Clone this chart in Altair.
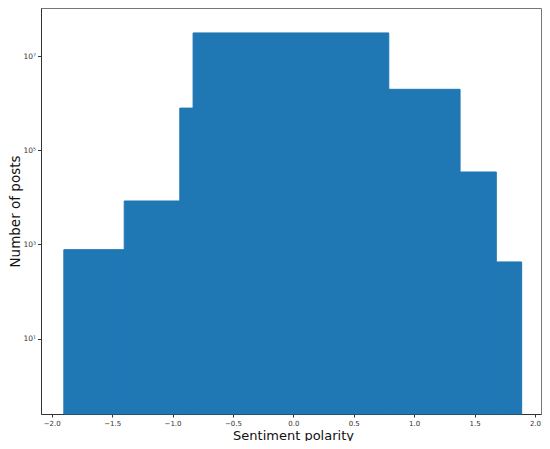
import altair as alt
import pandas as pd

# Histogram bins (sentiment polarity) and counts
bin_start = [-1.90, -1.40, -0.94, -0.83, 0.79, 1.38, 1.68]
bin_end = [-1.40, -0.94, -0.83, 0.79, 1.38, 1.68, 1.89]
counts = [773, 8360, 785000, 31000000, 1970000, 34500, 424]

x_ticks = [-2.0, -1.5, -1.0, -0.5, 0.0, 0.5, 1.0, 1.5, 2.0]
y_ticks = [10, 1000, 100000, 10000000]

Y_MIN, Y_MAX = 0.25, 1.05e8
X_MIN, X_MAX = -2.089, 2.05

df = pd.DataFrame({
    "start": bin_start,
    "end": bin_end,
    "count": counts,
    "base": [Y_MIN] * len(counts),
})

sup_expr = (
    "'10' + replace(replace(replace(replace(format(log(datum.value)/log(10), 'd'),"
    "'1','¹'),'3','³'),'5','⁵'),'7','⁷')"
)

chart = alt.Chart(df).mark_rect(
    color="#1f77b4", stroke="#1f77b4", strokeWidth=1
).encode(
    x=alt.X(
        "start:Q",
        scale=alt.Scale(domain=[X_MIN, X_MAX], nice=False, zero=False),
        axis=alt.Axis(
            title="Sentiment polarity",
            values=x_ticks,
            format=".1f",
            grid=False,
            labelFontSize=7,
            labelColor="#333",
            tickSize=3,
            tickColor="#333",
            domainColor="#333",
            labelPadding=2,
            titleFontSize=13,
            titleFontWeight="normal",
            titleColor="#111",
            titleBaseline="alphabetic",
            titleAlign="center",
            titleX=252,
            titleY=25,
            labelFlush=False,
        ),
    ),
    x2="end:Q",
    y=alt.Y(
        "count:Q",
        scale=alt.Scale(type="log", domain=[Y_MIN, Y_MAX], nice=False),
        axis=alt.Axis(
            title="Number of posts",
            values=y_ticks,
            labelExpr=sup_expr,
            grid=False,
            labelFontSize=7.5,
            labelColor="#333",
            tickSize=3.5,
            tickColor="#333",
            domainColor="#333",
            labelPadding=2,
            titleFontSize=13.5,
            titleFontWeight="normal",
            titleColor="#111",
            titleAngle=270,
            titleBaseline="alphabetic",
            titleAlign="center",
            titleX=-22,
            titleY=203,
            labelFlush=False,
        ),
    ),
    y2="base:Q",
).properties(
    width=500,
    height=406,
    autosize=alt.AutoSizeParams(type="none"),
    padding={"left": 33, "top": 0, "right": 1, "bottom": 27},
).configure_view(
    stroke="#777",
    strokeWidth=1,
).configure_axis(
    labelFont="DejaVu Sans",
    titleFont="DejaVu Sans",
)

chart.save("out.html", embed_options={"renderer": "svg", "actions": False})
